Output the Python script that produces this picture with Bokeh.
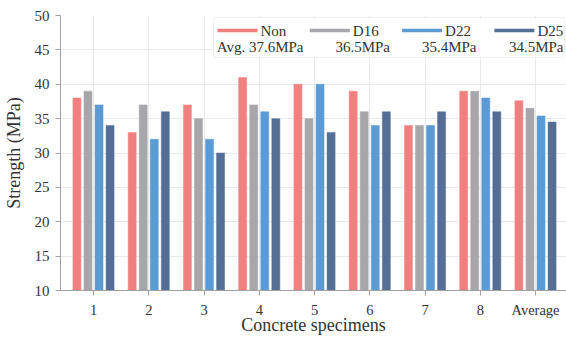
import numpy as np
from bokeh.plotting import figure
from bokeh.models import Range1d, FixedTicker, BoxAnnotation, Label
from bokeh.core.properties import value
from bokeh.embed import file_html
from bokeh.resources import INLINE

# ---- data ----
categories = ["1", "2", "3", "4", "5", "6", "7", "8", "Average"]
series = ["Non", "D16", "D22", "D25"]
non = [38, 33, 37, 41, 40, 39, 34, 39, 37.6]
d16 = [39, 37, 35, 37, 35, 36, 34, 39, 36.5]
d22 = [37, 32, 32, 36, 40, 34, 34, 38, 35.4]
d25 = [34, 36, 30, 35, 33, 36, 36, 36, 34.5]
averages = [37.6, 36.5, 35.4, 34.5]
y_ticks = [10, 15, 20, 25, 30, 35, 40, 45, 50]

# ---- style ----
colors = ["#F08080", "#A7A7AB", "#5B9BD5", "#546E96"]
FONT = "'Liberation Serif'"
TXT = "#333333"
AX = "#A0A0A0"

W, H = 566, 338
ML, MT, MB, MR = 60, 15, 48, 0
FW, FH = W - ML - MR, H - MT - MB
x0, x1 = 0.4027, 0.4027 + FW / 55.25
y0, y1 = 10, 50

p = figure(width=W, height=H, output_backend="svg",
           toolbar_location=None,
           x_range=Range1d(x0, x1), y_range=Range1d(y0, y1),
           min_border_left=ML, min_border_top=MT, min_border_bottom=MB,
           min_border_right=MR)
p.outline_line_color = None
p.background_fill_color = "white"
p.border_fill_color = "white"

xs = np.arange(1, len(categories) + 1)
offsets = [-0.3, -0.1, 0.1, 0.3]
for vals, off, col, name in zip([non, d16, d22, d25], offsets, colors, series):
    p.vbar(x=xs + off, top=vals, bottom=y0, width=0.145,
           fill_color=col, line_color=col, line_width=0.5)

# axes
p.xaxis.ticker = FixedTicker(ticks=list(xs))
p.xaxis.major_label_overrides = {int(i): c for i, c in zip(xs, categories)}
p.yaxis.ticker = FixedTicker(ticks=y_ticks)
p.xgrid.ticker = FixedTicker(ticks=list(xs))
p.ygrid.ticker = FixedTicker(ticks=y_ticks)
for g in (p.xgrid, p.ygrid):
    g.grid_line_color = "#E9E9E9"
    g.grid_line_width = 1

p.xaxis.axis_label = "Concrete specimens"
p.yaxis.axis_label = "Strength (MPa)"
for ax in (p.xaxis, p.yaxis):
    ax.axis_line_color = AX
    ax.major_tick_line_color = AX
    ax.minor_tick_line_color = None
    ax.major_tick_in = 0
    ax.major_tick_out = 5
    ax.major_label_text_font = FONT
    ax.major_label_text_color = TXT
    ax.axis_label_text_font = FONT
    ax.axis_label_text_font_size = "18px"
    ax.axis_label_text_font_style = "normal"
    ax.axis_label_text_color = TXT
p.xaxis.major_label_text_font_size = "14.5px"
p.yaxis.major_label_text_font_size = "15px"
p.xaxis.major_label_standoff = 6
p.xaxis.axis_label_standoff = -6
p.yaxis.major_label_standoff = 6
p.yaxis.axis_label_standoff = 8

# ---- custom legend (page-pixel layout converted to data coords) ----
FL, FT = ML, MT
sx = 55.25
sy = (y1 - y0) / FH

def dx(px):
    return x0 + (px - FL) / sx

def dy(py):
    return y1 - (py - FT) * sy

LL = 213  # legend left in page px
box = BoxAnnotation(left=dx(LL), right=dx(LL + 351), top=dy(17), bottom=dy(57),
                    fill_color="white", fill_alpha=0.92, line_color="#C8C8C8",
                    line_width=1, border_radius=3)
p.add_layout(box)

col_step = 92.3
row1 = dy(30)
row2 = dy(46.5)
for i, (name, col) in enumerate(zip(series, colors)):
    lx = LL + 4 + i * col_step
    p.segment(x0=[dx(lx)], y0=[row1], x1=[dx(lx + 40)], y1=[row1],
              line_color=col, line_width=3.5, level="overlay")
    p.add_layout(Label(x=dx(lx + 43), y=row1, text=name, text_font=FONT,
                       text_font_size="15px", text_color=TXT,
                       text_baseline="middle", text_align="left"))
    t = ("Avg. " if i == 0 else "") + f"{averages[i]:.1f}MPa"
    rx = [90, 176.5, 263, 350][i]
    p.add_layout(Label(x=dx(LL + rx), y=row2, text=t, text_font=FONT,
                       text_font_size="15px", text_color=TXT,
                       text_baseline="middle", text_align="right"))

open("out.html", "w").write(file_html(p, INLINE))
